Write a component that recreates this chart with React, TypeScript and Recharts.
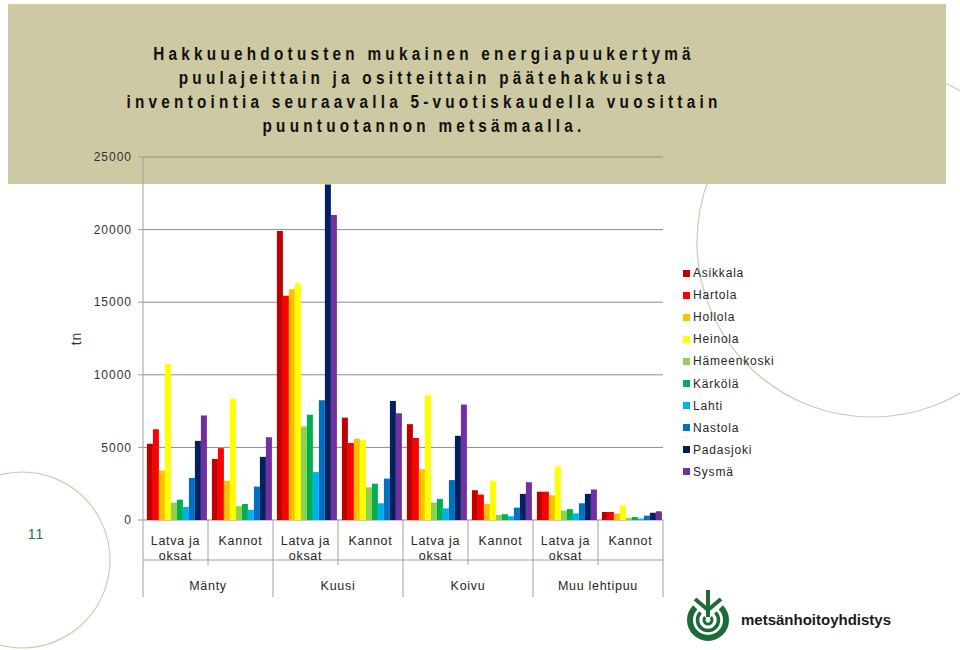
import React from 'react';
import { BarChart, Bar, XAxis, YAxis, CartesianGrid, Legend } from 'recharts';

const puulajit = ['Mänty', 'Kuusi', 'Koivu', 'Muu lehtipuu'];
const ositteet = ['Latva ja oksat', 'Kannot'];
const kunnat = [
  'Asikkala', 'Hartola', 'Hollola', 'Heinola', 'Hämeenkoski',
  'Kärkölä', 'Lahti', 'Nastola', 'Padasjoki', 'Sysmä',
];
const VARIT = [
  '#C00000', '#FF0000', '#FFC000', '#FFFF00', '#92D050',
  '#00B050', '#00B0F0', '#0070C0', '#002060', '#7030A0',
];

// tn / kunta, järjestys: Mänty latva, Mänty kannot, Kuusi latva, Kuusi kannot, Koivu ..., Muu lehtipuu ...
const asikkala = [5250, 4200, 19900, 7050, 6600, 2050, 1950, 550];
const hartola = [6250, 4950, 15450, 5300, 5650, 1750, 1950, 550];
const hollola = [3400, 2700, 15900, 5600, 3500, 1100, 1700, 450];
const heinola = [10750, 8350, 16300, 5500, 8600, 2700, 3700, 1000];
const hameenkoski = [1200, 950, 6450, 2250, 1200, 350, 650, 150];
const karkola = [1400, 1100, 7250, 2500, 1450, 400, 750, 200];
const lahti = [900, 700, 3300, 1150, 800, 250, 450, 100];
const nastola = [2900, 2300, 8250, 2850, 2750, 850, 1150, 300];
const padasjoki = [5450, 4350, 23100, 8200, 5800, 1800, 1800, 500];
const sysma = [7200, 5700, 21000, 7350, 7950, 2600, 2100, 600];

const arvot = [asikkala, hartola, hollola, heinola, hameenkoski, karkola, lahti, nastola, padasjoki, sysma];
const yTicks = [0, 5000, 10000, 15000, 20000, 25000];

const otsikko = [
  'Hakkuuehdotusten mukainen energiapuukertymä',
  'puulajeittain ja ositteittain päätehakkuista',
  'inventointia seuraavalla 5-vuotiskaudella vuosittain',
  'puuntuotannon metsämaalla.',
];

const data = puulajit.flatMap((laji, i) =>
  ositteet.map((osite, j) => {
    const row: Record<string, string | number> = { puulaji: laji, osite };
    kunnat.forEach((k, n) => {
      row[k] = arvot[n][i * 2 + j];
    });
    return row;
  }),
);

const W = 960;
const H = 650;
const MARGIN = { top: 157, right: 297, bottom: 45, left: 73 };
const Y_W = 70;
const X1_H = 45;
const X2_H = 40;
const PLOT_BOTTOM = H - MARGIN.bottom - X1_H - X2_H;
const BAND = (W - MARGIN.left - MARGIN.right - Y_W) / data.length;
const FONT = '"Liberation Sans", Arial, sans-serif';
const AXIS = '#a0a0a0';

const wrap = (s: string, max = 9) => {
  const out: string[] = [];
  s.split(' ').forEach((w) => {
    const last = out[out.length - 1];
    if (last && (last + ' ' + w).length <= max) out[out.length - 1] = last + ' ' + w;
    else out.push(w);
  });
  return out;
};

const OsiteTick = (props: any) => {
  const { x, payload, index } = props;
  const left = x - BAND / 2;
  const lines = wrap(String(payload.value));
  return (
    <g>
      <line x1={left} x2={left} y1={PLOT_BOTTOM} y2={PLOT_BOTTOM + (index % 2 === 0 ? 77 : 45)} stroke={AXIS} />
      {index === data.length - 1 && (
        <line x1={x + BAND / 2} x2={x + BAND / 2} y1={PLOT_BOTTOM} y2={PLOT_BOTTOM + 77} stroke={AXIS} />
      )}
      <text x={x} y={PLOT_BOTTOM + 25} textAnchor="middle" fontSize={12.5} fill="#262626" letterSpacing={0.7}>
        {lines.map((l, k) => (
          <tspan key={k} x={x} dy={k === 0 ? 0 : 15}>
            {l}
          </tspan>
        ))}
      </text>
    </g>
  );
};

const LajiTick = (props: any) => {
  const { x, payload, index } = props;
  if (index % 2 !== 0) return <g />;
  return (
    <text x={x + BAND / 2} y={PLOT_BOTTOM + 70} textAnchor="middle" fontSize={12.5} fill="#262626" letterSpacing={0.7}>
      {payload.value}
    </text>
  );
};

const TnLabel = (props: any) => {
  const vb = props.viewBox ?? { x: MARGIN.left, y: MARGIN.top, width: Y_W, height: PLOT_BOTTOM - MARGIN.top };
  const tx = vb.x + 8;
  const ty = vb.y + vb.height / 2;
  return (
    <text x={tx} y={ty} transform={`rotate(-90, ${tx}, ${ty})`} textAnchor="middle" fontSize={14} fill="#333" letterSpacing={1}>
      tn
    </text>
  );
};

const LegendContent = (props: any) => (
  <div>
    {(props.payload || []).map((item: any) => (
      <div
        key={item.value}
        style={{
          display: 'flex',
          alignItems: 'center',
          height: 22.1,
          whiteSpace: 'nowrap',
          fontSize: 12,
          letterSpacing: 0.8,
          color: '#262626',
        }}
      >
        <span
          style={{
            display: 'inline-block',
            flexShrink: 0,
            width: 7,
            height: 7,
            background: item.color ?? VARIT[kunnat.indexOf(item.value)],
            marginRight: 3,
          }}
        />
        {item.value}
      </div>
    ))}
  </div>
);

const arc = (cx: number, cy: number, r: number) => {
  const d = r * Math.SQRT1_2;
  return `M ${cx - d} ${cy - d} A ${r} ${r} 0 1 0 ${cx + d} ${cy - d}`;
};

export default function App() {
  return (
    <div style={{ position: 'absolute', left: 0, top: 0, width: W, height: H, overflow: 'hidden', background: '#fff', fontFamily: FONT }}>
      <svg width={W} height={H} style={{ position: 'absolute', left: 0, top: 0 }}>
        <circle cx={22} cy={560} r={88} fill="none" stroke="#cfcbb0" strokeWidth={1.2} />
        <circle cx={872} cy={242} r={175} fill="none" stroke="#cfcbb0" strokeWidth={1.2} />
      </svg>
      <div style={{ position: 'absolute', left: 8, top: 4, width: 938, height: 180, background: '#cdc9a2' }} />
      <div
        style={{
          position: 'absolute',
          left: 24,
          top: 42,
          width: 800,
          textAlign: 'center',
          fontWeight: 'bold',
          fontSize: 18,
          lineHeight: '24px',
          letterSpacing: 5,
          whiteSpace: 'nowrap',
          transform: 'scaleX(0.85)',
          color: '#111',
        }}
      >
        {otsikko.map((l) => (
          <div key={l}>{l}</div>
        ))}
      </div>
      <div style={{ position: 'absolute', left: 0, top: 0 }}>
        <BarChart width={W} height={H} data={data} margin={MARGIN} barCategoryGap="6%" barGap={0}>
          <CartesianGrid vertical={false} stroke="#8c8c8c" xAxisId="osite" />
          <XAxis
            xAxisId="osite"
            dataKey="osite"
            height={X1_H}
            interval={0}
            tickLine={false}
            axisLine={{ stroke: AXIS }}
            tick={OsiteTick}
          />
          <XAxis
            xAxisId="laji"
            dataKey="puulaji"
            height={X2_H}
            interval={0}
            tickLine={false}
            axisLine={false}
            tick={LajiTick}
          />
          <YAxis
            width={Y_W}
            domain={[0, 25000]}
            ticks={yTicks}
            interval={0}
            tickSize={5}
            tickMargin={6}
            axisLine={{ stroke: AXIS }}
            tickLine={{ stroke: AXIS }}
            tick={{ fontSize: 12, fill: '#333', letterSpacing: 1 }}
            label={TnLabel}
          />
          <Legend
            layout="vertical"
            align="right"
            verticalAlign="top"
            itemSorter={(item: any) => kunnat.indexOf(item.value)}
            content={LegendContent}
            wrapperStyle={{ left: 683, top: 262, width: 0, height: 0 }}
          />
          {kunnat.map((k, i) => (
            <Bar key={k} dataKey={k} xAxisId="osite" fill={VARIT[i]} isAnimationActive={false} />
          ))}
        </BarChart>
      </div>
      <svg width={W} height={H} style={{ position: 'absolute', left: 0, top: 0, pointerEvents: 'none' }}>
        <text x={36} y={539} textAnchor="middle" fontSize={14} fill="#2e6b57" letterSpacing={1}>
          11
        </text>
        <g stroke="#1e6b3a" fill="none" strokeLinecap="butt">
          <path d={arc(708, 620, 18)} strokeWidth={6} />
          <path d={arc(708, 620, 10.5)} strokeWidth={3.5} />
          <path d={arc(708, 620, 4)} strokeWidth={3} />
          <line x1={708} y1={590} x2={708} y2={617} strokeWidth={4} />
          <polyline points="695,599 708,610 721,599" strokeWidth={4} />
        </g>
        <text x={741} y={625} fontSize={15} fontWeight="bold" fill="#1a1a1a">
          metsänhoitoyhdistys
        </text>
      </svg>
    </div>
  );
}
